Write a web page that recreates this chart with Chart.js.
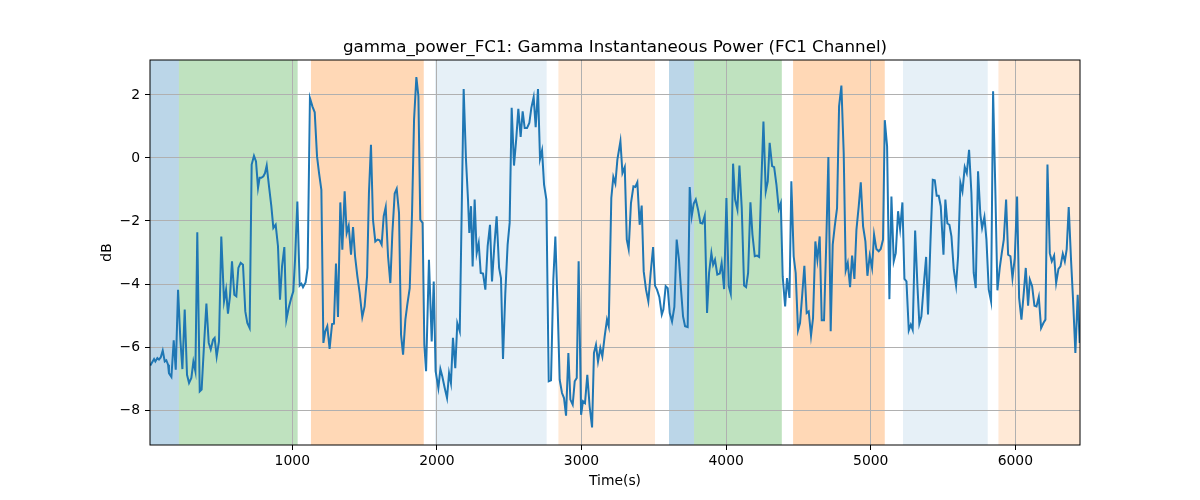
<!DOCTYPE html>
<html>
<head>
<meta charset="utf-8">
<script src="https://cdn.jsdelivr.net/npm/chart.js@4.4.1/dist/chart.umd.min.js"></script>
<style>
  html, body { margin: 0; padding: 0; background: #fff; }
  #wrap { width: 1200px; height: 500px; }
</style>
</head>
<body>
<div id="wrap"><canvas id="chart" width="1200" height="500"></canvas></div>
<script>
// time (s) and gamma power (dB)
const times = [
  18, 44, 53, 67, 78, 90, 104, 118, 129, 141, 147, 164, 180, 194, 210, 226, 240, 256, 272, 286,
  302, 316, 330, 343, 360, 373, 389, 406, 422, 436, 452, 463, 477, 493, 509, 528, 542, 555, 569, 583,
  599, 613, 627, 643, 659, 675, 689, 705, 719, 735, 749, 763, 774, 786, 800, 811, 823, 839, 855, 869,
  885, 901, 915, 929, 945, 959, 975, 993, 1007, 1019, 1035, 1051, 1063, 1074,
  1092, 1106, 1122, 1139, 1155, 1171, 1185, 1201, 1215, 1228, 1242, 1258, 1275, 1288, 1302, 1316, 1332, 1346, 1362, 1376,
  1390, 1406, 1420, 1434, 1450, 1466, 1484, 1500, 1517, 1530, 1544, 1558, 1574, 1590, 1604, 1618, 1632, 1646, 1662, 1678,
  1692, 1708, 1722, 1738, 1752, 1766, 1782, 1795, 1812, 1828, 1842, 1858, 1872, 1885, 1901, 1913, 1925, 1945, 1964, 1978,
  1991, 2010, 2024, 2037, 2054, 2070, 2084, 2097, 2111, 2127, 2141, 2158, 2185,
  2201, 2215, 2224, 2236, 2247, 2261, 2275, 2289, 2303, 2319, 2335, 2351, 2367, 2381, 2397, 2413, 2430, 2443, 2457, 2473,
  2489, 2503, 2517, 2533, 2549, 2563, 2579, 2593, 2607, 2623, 2639, 2653, 2669, 2683, 2699, 2713, 2727, 2741, 2757, 2773,
  2789, 2805, 2819, 2835, 2849, 2865, 2879, 2893, 2909, 2923, 2939, 2953, 2967, 2980, 2997, 3010, 3024, 3040, 3056, 3073,
  3086, 3100, 3114, 3130, 3144, 3160, 3176, 3188, 3206, 3220, 3234, 3248,
  3269, 3283, 3299, 3313, 3326, 3342, 3359, 3372, 3386, 3402, 3416, 3430, 3446, 3462, 3478, 3495, 3508, 3522, 3538, 3555,
  3566, 3582, 3596, 3610, 3626, 3642, 3658, 3674, 3688, 3702, 3716, 3734, 3748, 3762, 3776, 3790, 3806, 3822, 3836, 3852,
  3868, 3882, 3898, 3910, 3923, 3939, 3956, 3969, 3986, 4002, 4018, 4032, 4048, 4062, 4078, 4092, 4108, 4124, 4138, 4152,
  4168, 4182, 4198, 4214, 4228, 4241, 4258, 4274, 4288, 4301, 4318,
  4332, 4348, 4364, 4378, 4391, 4408, 4421, 4438, 4451, 4467, 4481, 4497, 4511, 4527, 4541, 4557, 4571, 4587, 4601, 4617,
  4631, 4647, 4661, 4677, 4693, 4707, 4723, 4737, 4751, 4767, 4781, 4797, 4813, 4827, 4841, 4857, 4871, 4887, 4901, 4917,
  4931, 4947, 4963, 4977, 4993, 5009, 5023, 5039, 5055, 5069, 5085, 5097, 5113, 5129, 5143, 5159, 5173, 5189, 5203, 5219,
  5233, 5247, 5263, 5277, 5290, 5307, 5323, 5336, 5350, 5366, 5383, 5396,
  5413, 5429, 5443, 5456, 5470, 5484, 5503, 5516, 5530, 5544, 5558, 5574, 5590, 5604, 5620, 5634, 5650, 5664, 5680, 5696,
  5712, 5726, 5742, 5758, 5770, 5786, 5800, 5816, 5832, 5846, 5862, 5876, 5892, 5906, 5920, 5936, 5950, 5966, 5980, 5996,
  6012, 6026, 6042, 6058, 6072, 6088, 6100, 6116, 6132, 6146, 6162, 6178, 6194, 6208, 6222, 6238, 6252, 6268, 6282, 6298,
  6312, 6328, 6342, 6355, 6369, 6385, 6399, 6415, 6431, 6445
];
const power = [
  -6.59, -6.38, -6.46, -6.35, -6.40, -6.33, -6.11, -6.46, -6.42, -6.56, -6.83, -6.95, -5.79, -6.72, -4.18, -5.77, -6.70, -4.81, -6.88, -7.14,
  -6.98, -6.46, -6.77, -2.36, -7.41, -7.35, -5.98, -4.62, -5.87, -6.08, -5.77, -5.71, -6.30, -5.82, -2.49, -4.55, -4.18, -4.94, -4.39, -3.28,
  -4.34, -4.39, -3.49, -3.33, -3.39, -4.87, -5.24, -5.40, -0.21, 0.07, -0.11, -0.95, -0.63, -0.63, -0.58, -0.48, -0.24, -0.90, -1.53, -2.22,
  -2.12, -2.80, -4.50, -3.44, -2.83, -5.13, -4.76, -4.44, -4.23, -3.23, -1.38, -4.05, -3.99, -4.10,
  -3.95, -3.49, 1.90, 1.64, 1.45, 0.05, -0.48, -1.01, -5.87, -5.50, -5.34, -6.06, -5.27, -5.26, -3.35, -5.05, -1.41, -2.91, -1.06, -2.38,
  -2.15, -3.07, -2.19, -3.12, -3.76, -4.29, -5.05, -4.71, -3.76, -1.11, 0.42, -1.96, -2.65, -2.59, -2.61, -2.75, -1.85, -1.56, -3.12, -3.97,
  -2.38, -1.13, -0.98, -1.75, -5.61, -6.24, -5.13, -4.66, -4.13, -1.75, 1.22, 2.57, 1.96, -1.96, -2.06, -5.93, -6.77, -3.23, -5.82, -3.92,
  -6.77, -7.30, -6.70, -6.93, -7.30, -7.62, -6.83, -7.14, -5.71, -6.67, -5.24, -5.50, 2.19,
  -0.05, -1.32, -2.38, -1.53, -3.44, -1.32, -3.02, -2.70, -3.65, -3.67, -4.18, -2.80, -2.12, -3.92, -2.80, -1.85, -3.49, -3.81, -6.38, -4.29,
  -2.75, -2.06, 1.59, -0.24, 0.63, 1.56, 0.67, 1.48, 0.95, 0.95, 1.11, 1.59, 1.93, 0.98, 2.19, -0.03, 0.24, -0.85, -1.32, -7.09,
  -7.06, -3.86, -2.49, -4.76, -7.04, -7.46, -7.62, -8.18, -6.19, -7.67, -7.83, -7.09, -6.98, -3.28, -8.15, -7.72, -7.78, -6.88, -7.88, -8.55,
  -6.19, -5.93, -6.46, -6.03, -6.30, -5.66, -5.13, -5.34, -1.27, -0.60, -0.81, -0.05,
  0.53, -0.48, -0.29, -2.59, -2.89, -1.43, -0.90, -0.92, -0.77, -2.12, -1.51, -3.60, -4.18, -4.55, -3.65, -2.83, -4.05, -4.18, -4.41, -4.97,
  -4.81, -4.07, -4.13, -4.92, -5.19, -4.73, -2.59, -3.23, -4.18, -5.03, -5.34, -5.37, -0.92, -1.85, -1.45, -1.32, -1.64, -2.06, -2.08, -1.83,
  -4.92, -3.65, -3.02, -3.39, -3.23, -3.70, -3.67, -3.33, -4.16, -1.27, -4.07, -4.31, -0.18, -1.32, -1.64, -0.24, -1.59, -4.05, -4.10, -3.65,
  -1.41, -2.43, -3.12, -3.10, -3.14, -1.11, 1.16, -1.06, -0.74, 0.48, -0.26,
  -0.29, -0.85, -1.62, -1.43, -3.76, -4.71, -3.81, -4.44, -0.74, -3.12, -3.65, -5.47, -5.24, -4.29, -3.42, -4.92, -4.87, -5.64, -5.08, -2.65,
  -3.23, -2.49, -5.15, -5.15, -2.59, 0.03, -5.50, -2.75, -2.17, -1.59, 1.64, 2.30, 0.16, -3.57, -3.33, -4.10, -3.10, -3.84, -2.28, -1.53,
  -0.77, -2.17, -2.65, -3.74, -3.10, -3.49, -2.43, -2.89, -2.96, -2.89, -2.59, 1.20, 0.37, -4.48, -1.22, -3.28, -3.02, -1.69, -2.25, -1.41,
  -3.84, -3.92, -5.47, -5.29, -5.45, -2.30, -4.07, -5.26, -5.03, -4.07, -3.14, -4.97,
  -2.65, -0.69, -0.71, -1.20, -1.20, -1.53, -3.07, -1.32, -2.08, -2.12, -2.49, -3.54, -4.05, -3.12, -0.79, -1.06, -0.29, -0.48, 0.26, -1.11,
  -3.65, -4.13, -0.42, -1.80, -2.22, -1.87, -2.59, -4.18, -4.55, 2.12, -1.11, -4.20, -3.49, -3.02, -2.59, -1.32, -3.07, -3.12, -3.81, -3.17,
  -1.22, -4.44, -5.13, -4.29, -3.49, -4.69, -3.86, -4.07, -4.69, -4.71, -4.41, -5.40, -5.24, -5.13, -0.21, -3.02, -3.28, -3.10, -3.97, -3.52,
  -3.44, -3.04, -3.28, -2.89, -1.56, -3.23, -4.50, -6.19, -4.34, -5.87
];

const xTicks = [1000, 2000, 3000, 4000, 5000, 6000];
const yTicks = [-8, -6, -4, -2, 0, 2];

// shaded stage intervals (s) and which stage each one is
const spanStart = [16, 216, 1129, 1987, 2840, 3605, 3778, 4463, 5223, 5883];
const spanEnd   = [216, 1037, 1909, 2759, 3508, 3778, 4385, 5097, 5809, 6447];
const spanStage = [0, 1, 2, 3, 4, 0, 1, 2, 3, 4];

const stageColors = [
  'rgba(31,119,180,0.3)',
  'rgba(44,160,44,0.3)',
  'rgba(255,127,14,0.3)',
  'rgba(31,119,180,0.11)',
  'rgba(255,127,14,0.17)'
];

const FONT = '"DejaVu Sans", sans-serif';

const decor = {
  id: 'decor',
  beforeDraw(chart) {
    const { ctx, chartArea: a, scales: { x } } = chart;
    ctx.save();
    spanStart.forEach((s, i) => {
      const x0 = Math.max(x.getPixelForValue(s), a.left);
      const x1 = Math.min(x.getPixelForValue(spanEnd[i]), a.right);
      ctx.fillStyle = stageColors[spanStage[i]];
      ctx.fillRect(x0, a.top, x1 - x0, a.bottom - a.top);
    });
    ctx.restore();
  },
  afterDraw(chart) {
    const { ctx, chartArea: a } = chart;
    ctx.save();
    ctx.strokeStyle = '#000';
    ctx.lineWidth = 1;
    ctx.strokeRect(a.left, a.top, a.right - a.left, a.bottom - a.top);

    ctx.fillStyle = '#000';
    ctx.textAlign = 'center';
    ctx.textBaseline = 'alphabetic';
    ctx.font = '16.7px ' + FONT;
    ctx.fillText('gamma_power_FC1: Gamma Instantaneous Power (FC1 Channel)', (a.left + a.right) / 2, 52);

    ctx.font = '13.9px ' + FONT;
    ctx.textBaseline = 'middle';
    ctx.fillText('Time(s)', (a.left + a.right) / 2, 481);

    ctx.translate(107, (a.top + a.bottom) / 2);
    ctx.rotate(-Math.PI / 2);
    ctx.fillText('dB', 0, 0);
    ctx.restore();
  }
};

const grid = { color: '#b0b0b0', lineWidth: 1, tickLength: 5, tickColor: '#000', drawTicks: true };

new Chart(document.getElementById('chart'), {
  type: 'line',
  data: {
    datasets: [{
      data: times.map((t, i) => ({ x: t, y: power[i] })),
      borderColor: '#1f77b4',
      borderWidth: 2,
      pointRadius: 0,
      tension: 0,
      fill: false
    }]
  },
  options: {
    responsive: false,
    devicePixelRatio: 1,
    animation: false,
    layout: { padding: { top: 60, right: 120, bottom: 0, left: 0 } },
    plugins: { legend: { display: false }, title: { display: false }, tooltip: { enabled: false } },
    scales: {
      x: {
        type: 'linear',
        min: 16,
        max: 6447,
        afterBuildTicks: s => { s.ticks = xTicks.map(v => ({ value: v })); },
        afterFit: s => { s.height = 55; },
        grid: grid,
        border: { display: false },
        ticks: {
          color: '#000', font: { family: FONT, size: 13.9 }, padding: 3, maxRotation: 0, autoSkip: false,
          callback: v => String(v)
        }
      },
      y: {
        min: -9.11,
        max: 3.11,
        afterBuildTicks: s => { s.ticks = yTicks.map(v => ({ value: v })); },
        afterFit: s => { s.width = 150; },
        grid: grid,
        border: { display: false },
        ticks: {
          color: '#000', font: { family: FONT, size: 13.9 }, padding: 5, autoSkip: false,
          callback: v => String(v).replace('-', '\u2212')
        }
      }
    }
  },
  plugins: [decor]
});
</script>
</body>
</html>
